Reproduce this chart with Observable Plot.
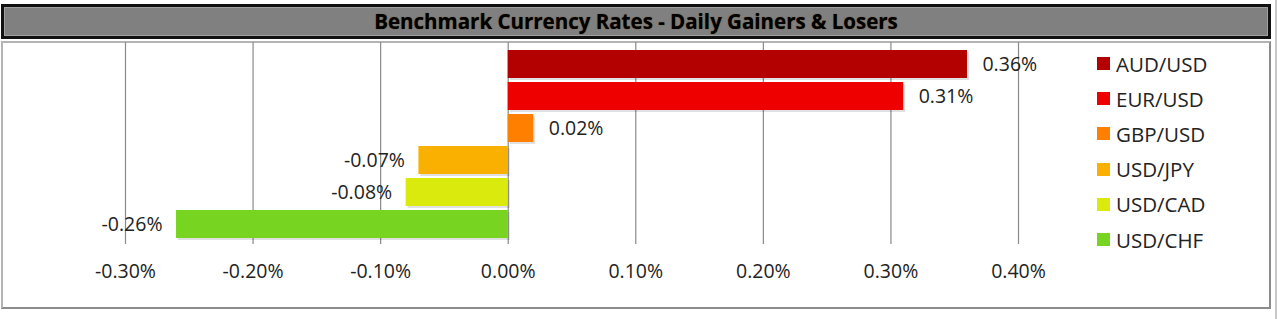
<!DOCTYPE html>
<html>
<head>
<meta charset="utf-8">
<script src="https://cdn.jsdelivr.net/npm/d3@7"></script>
<script src="https://cdn.jsdelivr.net/npm/@observablehq/plot@0.6"></script>
<style>
  html, body { margin: 0; padding: 0; background: #fff; }
  body { width: 1281px; height: 319px; position: relative; overflow: hidden; font-family: "Open Sans", sans-serif; }
  #title {
    position: absolute; left: 1px; top: 4px; width: 1270px; height: 35px; box-sizing: border-box;
    background: #808080; border: 3px solid #111; box-shadow: inset 0 0 0 1px #a0a0a0;
    text-align: center; font-weight: bold; font-size: 20.5px; line-height: 28px; color: #000;
    text-shadow: 0 0 1px #5a3a10;
  }
  #box {
    position: absolute; left: 1px; top: 41px; width: 1270px; height: 268px; box-sizing: border-box;
    border: 2px solid #b4b4b4; border-right-color: #8c8c8c; border-bottom-color: #8c8c8c;
  }
  #edge { position: absolute; left: 1275px; top: 0; width: 2px; height: 319px; background: #c8c8c8; }
  #chart { position: absolute; left: 0; top: 41px; }
  #legend { position: absolute; left: 1097px; top: 46px; font-size: 20.5px; color: #222; }
  #legend .row { height: 35.2px; display: flex; align-items: center; }
  #legend .sw { width: 13px; height: 13px; margin-right: 6px; }
</style>
</head>
<body>
<div id="title"></div>
<div id="box"></div>
<div id="edge"></div>
<div id="chart"></div>
<div id="legend"></div>
<script>
const titleText = "Benchmark Currency Rates - Daily Gainers & Losers";
const pairs = ["AUD/USD", "EUR/USD", "GBP/USD", "USD/JPY", "USD/CAD", "USD/CHF"];
const changes = [0.36, 0.31, 0.02, -0.07, -0.08, -0.26];
const colors = ["#B30000", "#EE0000", "#FF8000", "#F9B000", "#D9EA0C", "#77D420"];
const xTicks = [-0.3, -0.2, -0.1, 0, 0.1, 0.2, 0.3, 0.4];

document.getElementById("title").textContent = titleText;

const data = pairs.map((p, i) => ({pair: p, value: changes[i], color: colors[i]}));
const fmt = v => v.toFixed(2) + "%";

const chart = Plot.plot({
  width: 1281,
  height: 268,
  marginLeft: 125,
  marginRight: 263,
  marginTop: 3,
  marginBottom: 65,
  style: {background: "transparent", fontFamily: "Open Sans, sans-serif", fontSize: "19.5px", color: "#222"},
  x: {domain: [-0.3, 0.4], ticks: xTicks, tickFormat: fmt, label: null, tickSize: 0, tickPadding: 20},
  y: {domain: pairs, padding: 0.13, axis: null},
  marks: [
    Plot.ruleX(xTicks, {stroke: "#8a8a8a", strokeWidth: 1.2, insetTop: -2}),
    Plot.ruleY([0], {frameAnchor: "bottom", stroke: "#8a8a8a", strokeWidth: 1.2}),
    Plot.barX(data, {x: "value", y: "pair", fill: "#000", fillOpacity: 0.12, dx: 2, dy: 2}),
    Plot.barX(data, {x: "value", y: "pair", fill: "color"}),
    Plot.text(data.filter(d => d.value >= 0), {x: "value", y: "pair", text: d => fmt(d.value), dx: 15, textAnchor: "start", fill: "#222"}),
    Plot.text(data.filter(d => d.value < 0), {x: "value", y: "pair", text: d => fmt(d.value), dx: -14, textAnchor: "end", fill: "#222"}),
    Plot.axisX({ticks: xTicks, tickFormat: fmt, tickSize: 0, tickPadding: 20, label: null, fill: "#222"})
  ]
});
document.getElementById("chart").appendChild(chart);

const legend = document.getElementById("legend");
pairs.forEach((p, i) => {
  const row = document.createElement("div");
  row.className = "row";
  const sw = document.createElement("div");
  sw.className = "sw";
  sw.style.background = colors[i];
  const lab = document.createElement("span");
  lab.textContent = p;
  row.appendChild(sw);
  row.appendChild(lab);
  legend.appendChild(row);
});
</script>
</body>
</html>
